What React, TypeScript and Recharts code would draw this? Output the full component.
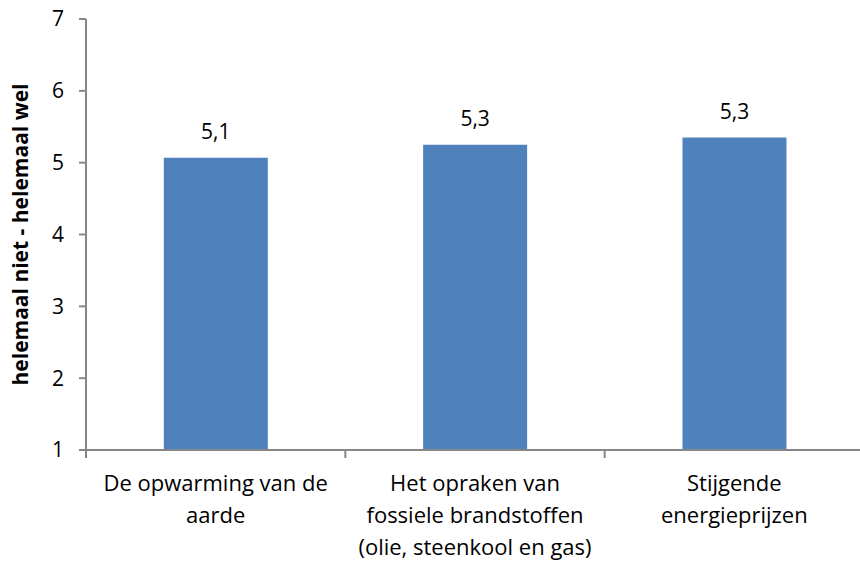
import React from 'react';
import { BarChart, Bar, XAxis, YAxis, LabelList } from 'recharts';

const categories = [
  'De opwarming van de\naarde',
  'Het opraken van\nfossiele brandstoffen\n(olie, steenkool en gas)',
  'Stijgende\nenergieprijzen',
];
const values = [5.07, 5.25, 5.35];
const valueLabels = ['5,1', '5,3', '5,3'];
const yTicks = [1, 2, 3, 4, 5, 6, 7];
const yTitle = 'helemaal niet - helemaal wel';

const data = categories.map((c, i) => ({ name: c, value: values[i], label: valueLabels[i] }));

const FONT = '"Open Sans", sans-serif';
const AXIS = '#868686';

const CatTick = (props: any) => {
  const { x, y, payload, index, visibleTicksCount } = props;
  const lines = String(payload.value).split('\n');
  const half = payload && payload.offset ? payload.offset : 0;
  const isLast = visibleTicksCount ? index === visibleTicksCount - 1 : index === categories.length - 1;
  return (
    <g>
      <line x1={x - half} x2={x - half} y1={y - 2} y2={y + 6} stroke={AXIS} strokeWidth={2} />
      {isLast && <line x1={x + half} x2={x + half} y1={y - 2} y2={y + 6} stroke={AXIS} strokeWidth={2} />}
      <text x={x} y={y} textAnchor="middle" fontFamily={FONT} fontSize={22} fill="#000">
        {lines.map((l, i) => (
          <tspan key={i} x={x} dy={i === 0 ? 39 : 32}>{l}</tspan>
        ))}
      </text>
    </g>
  );
};

export default function App() {
  return (
    <div style={{ position: 'absolute', left: 0, top: 0, width: 860, height: 562, overflow: 'hidden', background: '#fff' }}>
      <BarChart width={866} height={562} data={data} margin={{ top: 19, right: 2, left: 0, bottom: 12 }} barCategoryGap="30%">
        <XAxis dataKey="name" tick={<CatTick />} tickSize={0} tickMargin={2} tickLine={false} axisLine={{ stroke: AXIS, strokeWidth: 2 }} height={100} interval={0} />
        <YAxis
          domain={[1, 7]}
          ticks={yTicks}
          width={86}
          tickSize={7}
          tickMargin={15}
          tick={{ fontFamily: FONT, fontSize: 21, fill: '#000' }}
          tickLine={{ stroke: AXIS, strokeWidth: 2 }}
          axisLine={{ stroke: AXIS, strokeWidth: 2 }}
          label={{ value: yTitle, angle: -90, position: 'insideLeft', dx: 16, dy: 0, style: { fontFamily: FONT, fontSize: 21, fontWeight: 'bold', fill: '#000', textAnchor: 'middle' } }}
        />
        <Bar dataKey="value" fill="#4F81BD" isAnimationActive={false}>
          <LabelList dataKey="label" position="top" offset={19} style={{ fontFamily: FONT, fontSize: 21, fill: '#000' }} />
        </Bar>
      </BarChart>
    </div>
  );
}
